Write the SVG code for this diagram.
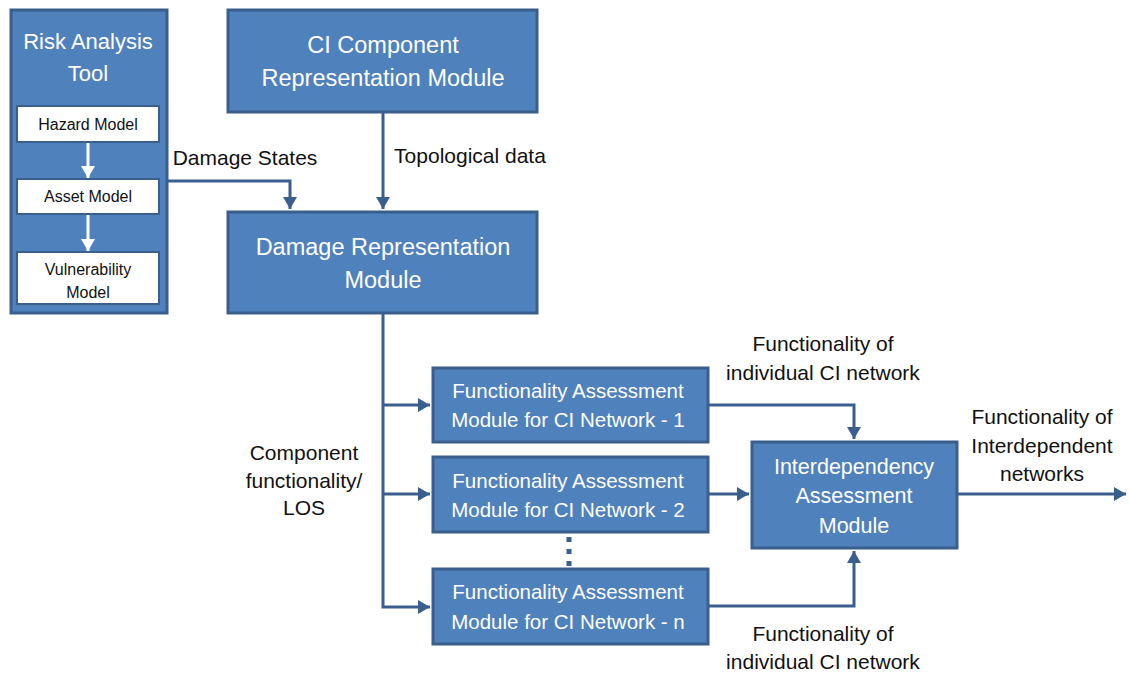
<svg xmlns="http://www.w3.org/2000/svg" width="1130" height="674" viewBox="0 0 1130 674">
  <style>
    .box { fill: #4F81BD; stroke: #3A5F8D; stroke-width: 3; }
    .sub { fill: #FFFFFF; stroke: #3A5F8D; stroke-width: 2; }
    .wt { fill: #FFFFFF; font-family: "Liberation Sans", Arial, sans-serif; text-anchor: middle; }
    .bt { fill: #111111; font-family: "Liberation Sans", Arial, sans-serif; text-anchor: middle; }
    .big { font-size: 23.5px; }
    .risk { font-size: 22px; }
    .mid { font-size: 20.5px; }
    .ida { font-size: 21.5px; }
    .sm { font-size: 16px; }
    .lbl { font-size: 21px; }
    .conn { fill: none; stroke: #3A5F8D; stroke-width: 3; }
    .inner { fill: none; stroke: #FFFFFF; stroke-width: 3; }
  </style>
  <defs>
    <marker id="ah" markerUnits="userSpaceOnUse" markerWidth="14" markerHeight="14" refX="12" refY="7" orient="auto">
      <path d="M0,0 L12,7 L0,14 z" fill="#3A5F8D"/>
    </marker>
    <marker id="ahw" markerUnits="userSpaceOnUse" markerWidth="14" markerHeight="14" refX="12" refY="7" orient="auto">
      <path d="M0,0 L12,7 L0,14 z" fill="#FFFFFF"/>
    </marker>
  </defs>
  <rect width="1130" height="674" fill="#FFFFFF"/>

  <!-- Risk analysis tool with its three sub-models -->
  <g id="risk-analysis-tool">
    <rect class="box" x="11" y="10" width="156" height="303"/>
    <text class="wt risk" x="88" y="49">Risk Analysis</text>
    <text class="wt risk" x="88" y="81">Tool</text>
    <rect class="sub" x="17" y="106" width="142" height="36"/>
    <text class="bt sm" x="88" y="130">Hazard Model</text>
    <rect class="sub" x="17" y="179" width="142" height="35"/>
    <text class="bt sm" x="88" y="202">Asset Model</text>
    <rect class="sub" x="17" y="252" width="142" height="52"/>
    <text class="bt sm" x="88" y="275">Vulnerability</text>
    <text class="bt sm" x="88" y="298">Model</text>
    <path class="inner" d="M88,143 V178" marker-end="url(#ahw)"/>
    <path class="inner" d="M88,215 V251" marker-end="url(#ahw)"/>
  </g>

  <g id="ci-component">
    <rect class="box" x="228" y="10" width="309" height="102"/>
    <text class="wt big" x="383" y="53">CI Component</text>
    <text class="wt big" x="383" y="86">Representation Module</text>
  </g>

  <g id="damage-representation">
    <rect class="box" x="228" y="212" width="309" height="101"/>
    <text class="wt big" x="383" y="255">Damage Representation</text>
    <text class="wt big" x="383" y="288">Module</text>
  </g>

  <g id="fa-1">
    <rect class="box" x="433" y="368" width="275" height="74"/>
    <text class="wt mid" x="568" y="398">Functionality Assessment</text>
    <text class="wt mid" x="568" y="427">Module for CI Network - 1</text>
  </g>

  <g id="fa-2">
    <rect class="box" x="433" y="457" width="275" height="75"/>
    <text class="wt mid" x="568" y="488">Functionality Assessment</text>
    <text class="wt mid" x="568" y="517">Module for CI Network - 2</text>
  </g>

  <g id="fa-n">
    <rect class="box" x="433" y="569" width="275" height="75"/>
    <text class="wt mid" x="568" y="599">Functionality Assessment</text>
    <text class="wt mid" x="568" y="629">Module for CI Network - n</text>
  </g>

  <g id="interdependency">
    <rect class="box" x="752" y="442" width="205" height="106"/>
    <text class="wt ida" x="854" y="474">Interdependency</text>
    <text class="wt ida" x="854" y="503">Assessment</text>
    <text class="wt ida" x="854" y="533">Module</text>
  </g>

  <!-- connectors -->
  <g id="connectors">
    <path class="conn" d="M167,181 H290 V209" marker-end="url(#ah)"/>
    <path class="conn" d="M383,112 V209" marker-end="url(#ah)"/>
    <path class="conn" d="M383,313 V607 H430" marker-end="url(#ah)"/>
    <path class="conn" d="M383,405 H430" marker-end="url(#ah)"/>
    <path class="conn" d="M383,494 H430" marker-end="url(#ah)"/>
    <path class="conn" d="M708,405 H854 V439" marker-end="url(#ah)"/>
    <path class="conn" d="M708,494 H749" marker-end="url(#ah)"/>
    <path class="conn" d="M708,606 H854 V551" marker-end="url(#ah)"/>
    <path class="conn" d="M957,494 H1126" marker-end="url(#ah)"/>
    <path d="M569,537 V567" stroke="#3A5F8D" stroke-width="5" stroke-dasharray="5 7" fill="none"/>
  </g>

  <!-- connector labels -->
  <g id="labels">
    <text class="bt lbl" x="245" y="165">Damage States</text>
    <text class="bt lbl" x="470" y="163">Topological data</text>
    <text class="bt lbl" x="304" y="460">Component</text>
    <text class="bt lbl" x="304" y="488">functionality/</text>
    <text class="bt lbl" x="304" y="515">LOS</text>
    <text class="bt lbl" x="823" y="351">Functionality of</text>
    <text class="bt lbl" x="823" y="380">individual CI network</text>
    <text class="bt lbl" x="1042" y="424">Functionality of</text>
    <text class="bt lbl" x="1042" y="453">Interdependent</text>
    <text class="bt lbl" x="1042" y="481">networks</text>
    <text class="bt lbl" x="823" y="641">Functionality of</text>
    <text class="bt lbl" x="823" y="669">individual CI network</text>
  </g>
</svg>
